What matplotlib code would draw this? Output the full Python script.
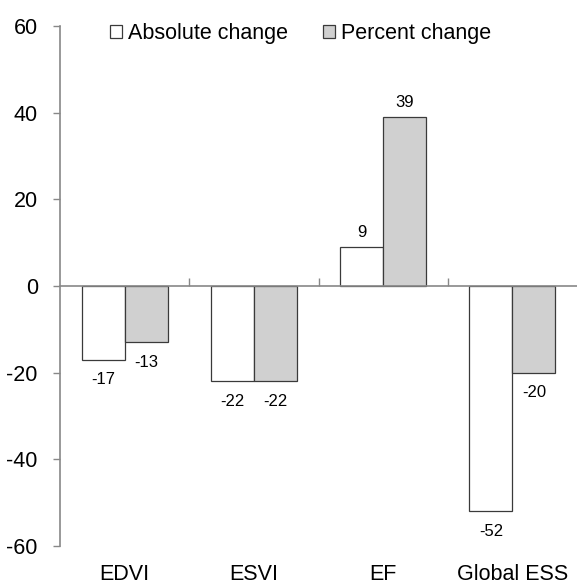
import matplotlib
matplotlib.use("Agg")
import matplotlib.pyplot as plt
import numpy as np

categories = ["EDVI", "ESVI", "EF", "Global ESS"]
absolute_change = [-17, -22, 9, -52]
percent_change = [-13, -22, 39, -20]
series_names = ["Absolute change", "Percent change"]
yticks = [-60, -40, -20, 0, 20, 40, 60]

plt.rcParams['font.family'] = ['Liberation Sans', 'DejaVu Sans']

fig = plt.figure(figsize=(5.77, 5.86), dpi=100)
ax = fig.add_axes([0.104, 0.068, 0.896, 0.888])

x = np.arange(len(categories))
w = 1 / 3
edge = "#3a3a3a"
b1 = ax.bar(x - w / 2, absolute_change, w, color="white", edgecolor=edge, linewidth=0.9, label=series_names[0])
b2 = ax.bar(x + w / 2, percent_change, w, color="#d0d0d0", edgecolor=edge, linewidth=0.9, label=series_names[1])

for xs, vals in ((x - w / 2, absolute_change), (x + w / 2, percent_change)):
    for xi, v in zip(xs, vals):
        if v >= 0:
            ax.annotate(f"{v:g}", (xi, v), xytext=(0, 5), textcoords="offset points",
                        ha="center", va="bottom", fontsize=12)
        else:
            ax.annotate(f"{v:g}", (xi, v), xytext=(0, -9), textcoords="offset points",
                        ha="center", va="top", fontsize=12)

ax.set_xlim(-0.5, len(categories) - 0.5)
ax.set_ylim(-60, 60)
ax.set_yticks(yticks)
ax.set_yticklabels([str(t) for t in yticks], fontsize=15.5)
ax.tick_params(axis="y", direction="out", length=5, width=1, color="#888888", pad=11)

# zero line with boundary ticks pointing up
ax.spines["bottom"].set_position(("data", 0))
ax.spines["bottom"].set_color("#888888")
ax.spines["bottom"].set_linewidth(1.2)
ax.set_xticks(x[:-1] + 0.5)
ax.set_xticklabels([])
ax.tick_params(axis="x", direction="in", length=6, width=1, color="#888888")

# category labels at the bottom
sec = ax.secondary_xaxis("bottom")
sec.set_xticks(x)
sec.set_xticklabels(categories, fontsize=15.5)
sec.tick_params(length=0, pad=13)
sec.spines["bottom"].set_visible(False)

for s in ["top", "right"]:
    ax.spines[s].set_visible(False)
ax.spines["left"].set_color("#888888")
ax.spines["left"].set_linewidth(1.2)

leg = ax.legend(loc="upper left", bbox_to_anchor=(0.08, 1.022), ncol=2, frameon=False,
                fontsize=15.5, handlelength=0.55, handleheight=0.55, handletextpad=0.3,
                columnspacing=1.6, borderaxespad=0)

fig.savefig("out.png", dpi=100)
